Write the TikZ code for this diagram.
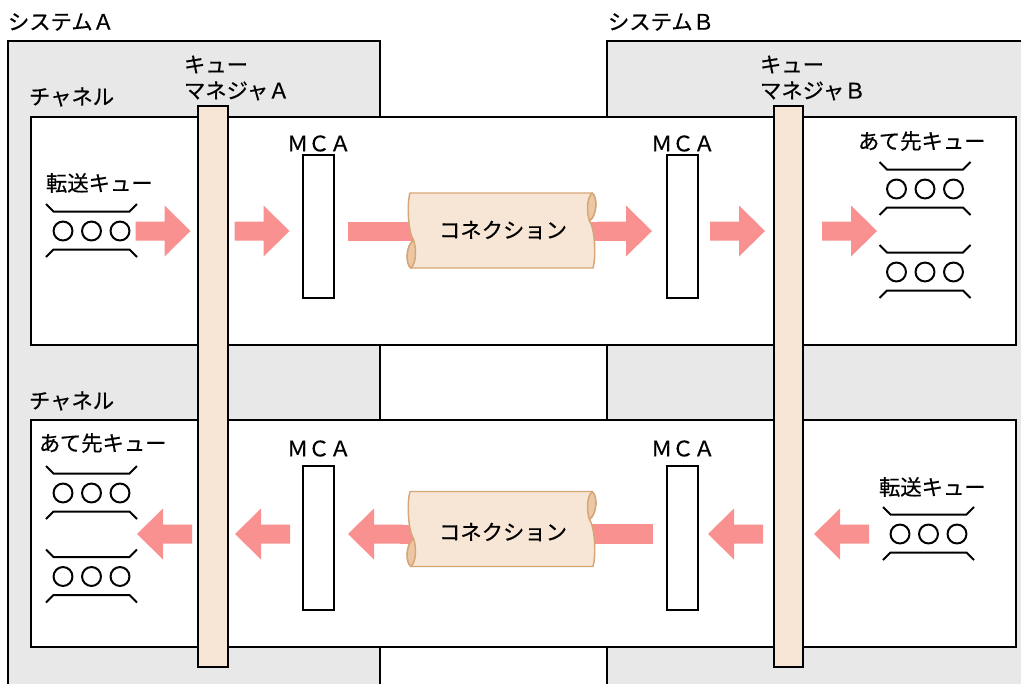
\documentclass[tikz,border=0pt]{standalone}
\usepackage{fontspec}
\setmainfont{Noto Sans CJK JP}[FakeBold=0.5]
\definecolor{sysgray}{HTML}{E8E8E8}
\definecolor{barfill}{HTML}{F7E6D6}
\definecolor{pipefill}{HTML}{F7E6D5}
\definecolor{pipedark}{HTML}{EBC7A6}
\definecolor{pipeline}{HTML}{D6A676}
\definecolor{arrowpink}{HTML}{F99191}
\tikzset{
  queueicon/.pic={
    \draw[qline] (-45.5,-27) -- (-38,-19.5) -- (38,-19.5) -- (45.5,-27);
    \draw[qline] (-45.5,26) -- (-38,18.5) -- (38,18.5) -- (45.5,26);
    \foreach \dx in {-28.5,0,28.5} \draw[qline] (\dx,0) circle[radius=7.1pt];
  },
  rarrow/.pic={
    \fill[arrowpink] (0,0) -- (-26,-25.5) -- (-26,-9.5) -- (-55,-9.5) -- (-55,9.5) -- (-26,9.5) -- (-26,25.5) -- cycle;
  },
  larrow/.pic={
    \fill[arrowpink] (0,0) -- (26,-25.5) -- (26,-9.5) -- (55,-9.5) -- (55,9.5) -- (26,9.5) -- (26,25.5) -- cycle;
  },
  pipeshape/.pic={
    \filldraw[fill=pipefill, draw=pipeline, line width=1.1pt, line join=round]
      (-91.5,-37.5) -- (90.5,-37.5)
      .. controls (96,-34) and (96,-16) .. (88,-9.5)
      .. controls (93,-3) and (95,25) .. (91.5,37.5)
      -- (-90.5,37.5)
      .. controls (-96,34) and (-96,16) .. (-88,9.5)
      .. controls (-93,3) and (-95,-25) .. (-91.5,-37.5) -- cycle;
    \filldraw[fill=pipedark, draw=pipeline, line width=1.1pt, line join=round]
      (-88,9.5) .. controls (-96,16) and (-96,34) .. (-90.5,37.5)
      .. controls (-85,32) and (-85,18) .. (-88,9.5) -- cycle;
    \filldraw[fill=pipedark, draw=pipeline, line width=1.1pt, line join=round]
      (90.5,-37.5) .. controls (96,-34) and (96,-16) .. (88,-9.5)
      .. controls (85,-18) and (85,-32) .. (90.5,-37.5) -- cycle;
  },
}
\begin{document}
\begin{tikzpicture}[x=0.75pt,y=-0.75pt,
  every node/.style={font=\fontsize{16}{19.5}\selectfont, inner sep=0pt, outer sep=0pt},
  frame/.style={draw=black, line width=1.5pt, rectangle},
  sysbox/.style={frame, fill=sysgray},
  chanbox/.style={frame, fill=white},
  qmbar/.style={frame, fill=barfill},
  mcabox/.style={frame, fill=white, minimum width=23.25pt},
  lbl/.style={anchor=west},
  qline/.style={line width=1.5pt},
  shaft/.style={fill=arrowpink},
]
\useasboundingbox (0,0) rectangle (1021,683);

% systems
\node[sysbox, minimum width=279pt, minimum height=493.9pt] (sysA) at (194,370.75) {};
\node[sysbox, minimum width=324.75pt, minimum height=493.9pt] (sysB) at (823.5,370.75) {};
\node[lbl] (sysAlbl) at (8,22) {システムＡ};
\node[lbl] (sysBlbl) at (608,22) {システムＢ};

% channels
\node[chanbox, minimum width=738.75pt, minimum height=171pt] (ch1) at (523.5,231) {};
\node[chanbox, minimum width=738.75pt, minimum height=170.6pt] (ch2) at (523.5,533.75) {};
\node[lbl] (ch1lbl) at (29,97) {チャネル};
\node[lbl] (ch2lbl) at (29,401) {チャネル};

% queue managers
\node[qmbar, minimum width=22.5pt, minimum height=420.75pt] (qmA) at (213,386.5) {};
\node[qmbar, minimum width=21.75pt, minimum height=420.75pt] (qmB) at (788.5,386.5) {};
\node[lbl, align=left] (qmAlbl) at (184,78) {キュー\\マネジャＡ};
\node[lbl, align=left] (qmBlbl) at (760,78) {キュー\\マネジャＢ};

% arrows, top row (to the right)
\pic (a1) at (190.5,231) {rarrow};
\pic (a2) at (289.5,231) {rarrow};
\fill[shaft] (348,221.5) rectangle (430,240.5);
\fill[shaft] (575,221.5) rectangle (627,240.5);
\pic (a4) at (652,231) {rarrow};
\pic (a5) at (765,231) {rarrow};
\pic (a6) at (877,231) {rarrow};

% arrows, bottom row (to the left)
\pic (b1) at (137,534) {larrow};
\pic (b2) at (235,534) {larrow};
\pic (b3) at (348,534) {larrow};
\fill[shaft] (400,524.5) rectangle (430,543.5);
\fill[shaft] (575,524) rectangle (653,544);
\pic (b5) at (708,534) {larrow};
\pic (b6) at (814,534) {larrow};

% MCA boxes
\node[mcabox, minimum height=107.25pt] (mca1) at (318.5,226.5) {};
\node[mcabox, minimum height=107.25pt] (mca2) at (682.5,226.5) {};
\node[mcabox, minimum height=108pt] (mca3) at (318.5,538) {};
\node[mcabox, minimum height=108pt] (mca4) at (682.5,538) {};
\node (mca1lbl) at (319,143.5) {ＭＣＡ};
\node (mca2lbl) at (683,143.5) {ＭＣＡ};
\node (mca3lbl) at (319,448.5) {ＭＣＡ};
\node (mca4lbl) at (683,448.5) {ＭＣＡ};

% connections
\pic (p1) at (501.5,230.5) {pipeshape};
\pic (p2) at (501.5,529) {pipeshape};
\node (conn1) at (503,230) {コネクション};
\node (conn2) at (503,532) {コネクション};

% queues
\node[lbl] (xq1lbl) at (46,183) {転送キュー};
\pic (xq1) at (91.5,231) {queueicon};
\node[lbl] (dq1lbl) at (858,141) {あて先キュー};
\pic (dq1a) at (925,189) {queueicon};
\pic (dq1b) at (925,272) {queueicon};
\node[lbl] (dq2lbl) at (39,443) {あて先キュー};
\pic (dq2a) at (91.5,493) {queueicon};
\pic (dq2b) at (91.5,576.5) {queueicon};
\node[lbl] (xq2lbl) at (879,487) {転送キュー};
\pic (xq2) at (928.5,534) {queueicon};
\end{tikzpicture}
\end{document}
